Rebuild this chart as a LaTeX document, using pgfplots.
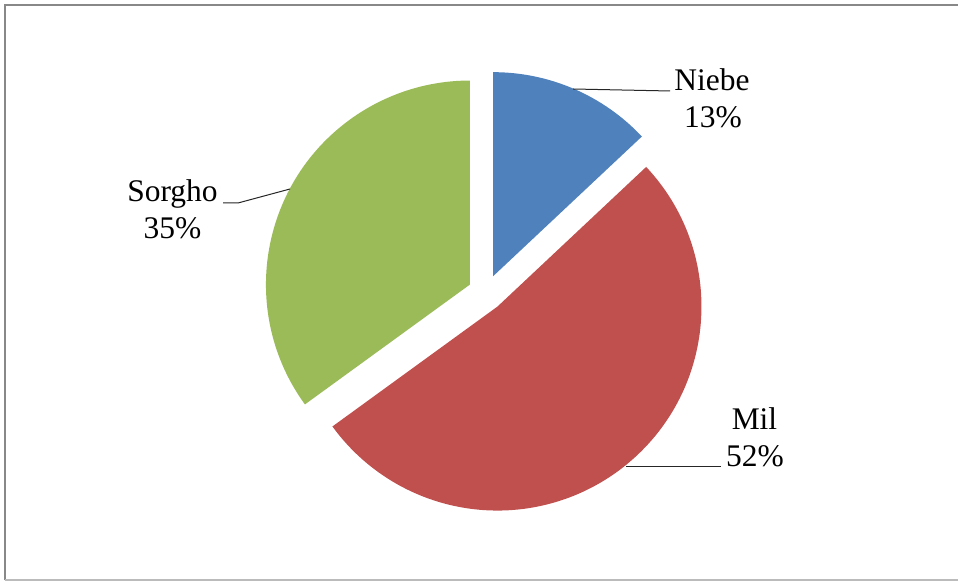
\documentclass[border=0pt]{standalone}
\usepackage{pgfplots}
\usepackage{pgfplotstable}
\pgfplotsset{compat=1.18}
\usepackage{fontspec}
\setmainfont{Liberation Serif}
\definecolor{cNiebe}{HTML}{4F81BD}
\definecolor{cMil}{HTML}{C0504D}
\definecolor{cSorgho}{HTML}{9BBB59}
\definecolor{frameA}{HTML}{888888}
\definecolor{frameB}{HTML}{BBBBBB}
\pgfplotstableread{
name value
Niebe 13
Mil 52
Sorgho 35
}\piedata
\begin{document}
\begin{tikzpicture}
\pgfplotstablegetelem{0}{value}\of\piedata \let\vA\pgfplotsretval
\pgfplotstablegetelem{1}{value}\of\piedata \let\vB\pgfplotsretval
\pgfplotstablegetelem{2}{value}\of\piedata \let\vC\pgfplotsretval
\pgfmathsetmacro\aO{90}
\pgfmathsetmacro\aA{\aO-3.6*\vA}
\pgfmathsetmacro\aB{\aA-3.6*\vB}
\pgfmathsetmacro\aC{\aB-3.6*\vC}
% pie centre (axis units) and explosion offset
\def\cx{486}\def\cy{288.3}\def\dd{18}
\pgfmathsetmacro\xA{\cx+\dd*cos((\aO+\aA)/2)}\pgfmathsetmacro\yA{\cy+\dd*sin((\aO+\aA)/2)}
\pgfmathsetmacro\xB{\cx+\dd*cos((\aA+\aB)/2)}\pgfmathsetmacro\yB{\cy+\dd*sin((\aA+\aB)/2)}
\pgfmathsetmacro\xC{\cx+\dd*cos((\aB+\aC)/2)}\pgfmathsetmacro\yC{\cy+\dd*sin((\aB+\aC)/2)}
\begin{axis}[
  scale only axis, width=720.75pt, height=435.75pt,
  xmin=0, xmax=961, ymin=0, ymax=581,
  hide axis, clip=false,
]
% frame
\draw[frameA, line width=2pt] (axis cs:5,0.5) -- (axis cs:5,576) -- (axis cs:958,576);
\draw[frameB, line width=1.5pt] (axis cs:5,1) -- (axis cs:958,1);
% slices
\fill[cNiebe] (axis cs:\xA,\yA) -- ++(\aO:153pt) arc[start angle=\aO, end angle=\aA, radius=153pt] -- cycle;
\fill[cMil] (axis cs:\xB,\yB) -- ++(\aA:153pt) arc[start angle=\aA, end angle=\aB, radius=153pt] -- cycle;
\fill[cSorgho] (axis cs:\xC,\yC) -- ++(\aB:153pt) arc[start angle=\aB, end angle=\aC, radius=153pt] -- cycle;
% leader lines
\draw[black!85, line width=0.75pt] (axis cs:573,492) -- (axis cs:670,490);
\draw[black!85, line width=0.75pt] (axis cs:626,114) -- (axis cs:721,114);
\draw[black!85, line width=0.75pt] (axis cs:223,378) -- (axis cs:238,378) -- (axis cs:290,392);
% labels
\node[anchor=base, inner sep=0pt, font=\fontsize{23.6pt}{27.75pt}\selectfont] at (axis cs:712,490) {Niebe};
\node[anchor=base, inner sep=0pt, font=\fontsize{23.6pt}{27.75pt}\selectfont] at (axis cs:713,453.3) {13\%};
\node[anchor=base, inner sep=0pt, font=\fontsize{23.6pt}{27.75pt}\selectfont] at (axis cs:754.5,151) {Mil};
\node[anchor=base, inner sep=0pt, font=\fontsize{23.6pt}{27.75pt}\selectfont] at (axis cs:755,114) {52\%};
\node[anchor=base, inner sep=0pt, font=\fontsize{23.6pt}{27.75pt}\selectfont] at (axis cs:172.5,379) {Sorgho};
\node[anchor=base, inner sep=0pt, font=\fontsize{23.6pt}{27.75pt}\selectfont] at (axis cs:172.5,342) {35\%};
\coordinate (ll) at (axis cs:0,0);
\coordinate (ur) at (axis cs:961,581);
\end{axis}
\pgfresetboundingbox
\path (ll) rectangle (ur);
\end{tikzpicture}
\end{document}
